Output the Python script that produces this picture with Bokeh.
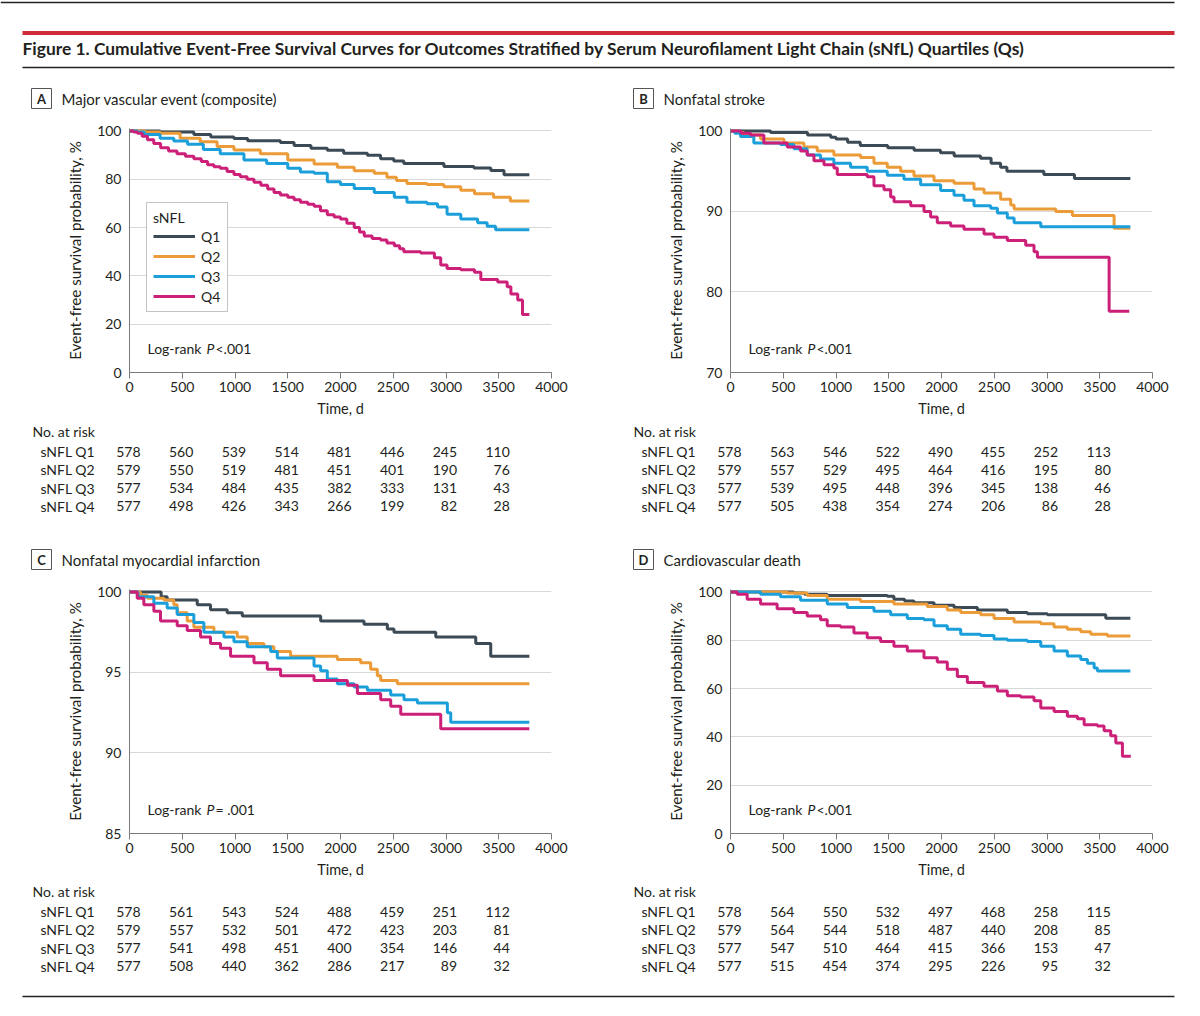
from bokeh.plotting import figure
from bokeh.models import Range1d, FixedTicker, Legend, LegendItem, Label
from bokeh.layouts import column, row
from bokeh.embed import file_html
from bokeh.resources import INLINE
from bokeh.core.properties import value

FONT = "Lato"
TXT = "#231f20"
COLORS = ["#3b4a55", "#eb9b37", "#1b9fdb", "#cc1f78"]
QUARTILES = ["Q1", "Q2", "Q3", "Q4"]
X_TICKS = [0, 500, 1000, 1500, 2000, 2500, 3000, 3500, 4000]
RISK_TIMES = [0, 500, 1000, 1500, 2000, 2500, 3000, 3500]
TITLE = ("Figure 1. Cumulative Event-Free Survival Curves for Outcomes Stratified by "
         "Serum Neurofilament Light Chain (sNfL) Quartiles (Qs)")

# ---------- Panel A: Major vascular event (composite) ----------
A_T1 = [0, 290, 610, 770, 990, 1120, 1430, 1560, 1720, 1875, 2030, 2255, 2380, 2505, 2600, 2980, 3265, 3425, 3550, 3790]
A_S1 = [100, 99.5, 98.5, 97.5, 96.9, 95.9, 95.2, 94.0, 92.8, 92.0, 90.8, 89.9, 88.5, 87.5, 86.5, 85.3, 84.6, 83.6, 81.9, 81.9]
A_T2 = [0, 150, 290, 480, 670, 830, 990, 1240, 1500, 1750, 1970, 2130, 2320, 2440, 2530, 2630, 2820, 2980, 3140, 3270, 3450, 3610, 3790]
A_S2 = [100, 99.6, 99.0, 97.0, 95.5, 93.6, 92.1, 90.5, 88.0, 86.3, 85.0, 83.5, 82.5, 80.8, 79.5, 78.2, 77.8, 76.9, 75.4, 74.0, 72.5, 71.0, 71.0]
A_T3 = [0, 70, 140, 290, 420, 550, 700, 860, 1085, 1300, 1500, 1620, 1750, 1875, 2000, 2130, 2320, 2510, 2630, 2820, 2920, 3010, 3140, 3300, 3390, 3470, 3790]
A_S3 = [100, 99.5, 98.5, 97.0, 95.8, 94.5, 92.3, 90.5, 88.0, 86.5, 84.5, 83.0, 82.5, 79.0, 77.8, 76.2, 74.5, 72.5, 70.5, 69.8, 68.5, 65.5, 63.5, 62.0, 60.5, 59.1, 59.1]
A_T4 = [0, 40, 75, 120, 170, 230, 295, 370, 450, 530, 610, 680, 740, 800, 860, 925, 990, 1050, 1115, 1180,
        1245, 1310, 1370, 1430, 1500, 1560, 1620, 1690, 1750, 1810, 1875, 1940, 2000, 2060, 2130, 2180, 2225, 2300, 2380, 2440,
        2510, 2560, 2600, 2760, 2890, 2950, 3010, 3140, 3270, 3330, 3490, 3580, 3615, 3680, 3725, 3790]
A_S4 = [100, 99.5, 99, 97.8, 96.3, 94.8, 93, 91.7, 90.5, 89.5, 88.5, 87.3, 86, 85.2, 84.5, 83.2, 82, 81, 80, 78.7,
        77.5, 76, 74.5, 73.5, 72.5, 71.5, 70.5, 69.6, 68.8, 67, 65.3, 64.4, 63.5, 61.8, 60, 58.2, 56.5, 55.5, 54.8, 53.6,
        52.5, 51.2, 50, 49.5, 47.5, 44.5, 43, 42.5, 41.5, 38.5, 37.5, 35.5, 32.5, 30, 24, 24]
A_RISK1 = [578, 560, 539, 514, 481, 446, 245, 110]
A_RISK2 = [579, 550, 519, 481, 451, 401, 190, 76]
A_RISK3 = [577, 534, 484, 435, 382, 333, 131, 43]
A_RISK4 = [577, 498, 426, 343, 266, 199, 82, 28]

# ---------- Panel B: Nonfatal stroke ----------
B_T1 = [0, 380, 730, 950, 1000, 1110, 1230, 1490, 1740, 1990, 2120, 2370, 2470, 2560, 2620, 2970, 3260, 3790]
B_S1 = [100, 99.8, 99.5, 99.2, 99.0, 98.6, 98.2, 97.9, 97.6, 97.3, 96.9, 96.6, 96.0, 95.5, 95.0, 94.6, 94.1, 94.1]
B_T2 = [0, 60, 126, 285, 506, 696, 822, 980, 1233, 1360, 1486, 1613, 1739, 1929, 2119, 2308, 2403, 2561, 2656, 2688, 3083, 3241, 3636, 3790]
B_S2 = [100, 99.8, 99.5, 99.0, 98.5, 98.0, 97.5, 97.0, 96.7, 96.0, 95.5, 95.0, 94.4, 93.8, 93.5, 92.8, 92.3, 91.5, 90.8, 90.3, 90.0, 89.5, 87.9, 87.9]
B_T3 = [0, 40, 95, 221, 474, 601, 727, 854, 980, 1138, 1296, 1486, 1644, 1802, 1992, 2119, 2213, 2308, 2466, 2530, 2624, 2688, 2941, 3790]
B_S3 = [100, 99.7, 99.3, 98.5, 98.3, 97.8, 97.0, 96.5, 96.0, 95.5, 95.0, 94.5, 94.0, 93.3, 92.6, 92.0, 91.4, 90.7, 90.4, 89.8, 89.2, 88.6, 88.1, 88.1]
B_T4 = [0, 100, 190, 316, 538, 664, 727, 791, 886, 980, 1012, 1296, 1360, 1455, 1518, 1550, 1708, 1834, 1897, 1960,
        2087, 2213, 2403, 2498, 2624, 2798, 2877, 2909, 3589, 3780]
B_S4 = [100, 99.7, 99.5, 98.5, 98.0, 97.5, 97.0, 96.3, 95.8, 95.4, 94.6, 94.3, 93.2, 92.7, 91.8, 91.2, 90.7, 90.0, 89.3, 88.6,
        88.2, 87.8, 87.2, 86.8, 86.4, 85.8, 85.0, 84.3, 77.6, 77.6]
B_RISK1 = [578, 563, 546, 522, 490, 455, 252, 113]
B_RISK2 = [579, 557, 529, 495, 464, 416, 195, 80]
B_RISK3 = [577, 539, 495, 448, 396, 345, 138, 46]
B_RISK4 = [577, 505, 438, 354, 274, 206, 86, 28]

# ---------- Panel C: Nonfatal myocardial infarction ----------
C_T1 = [0, 300, 357, 642, 768, 926, 1069, 1812, 2223, 2444, 2507, 2903, 3282, 3424, 3790]
C_S1 = [100, 99.7, 99.5, 99.2, 98.9, 98.7, 98.5, 98.2, 98.0, 97.7, 97.5, 97.2, 96.8, 96.0, 96.0]
C_T2 = [0, 104, 170, 326, 420, 452, 547, 610, 800, 1021, 1116, 1274, 1369, 1527, 1970, 2191, 2286, 2349, 2381, 2539, 3790]
C_S2 = [100, 99.8, 99.6, 99.5, 99.2, 98.7, 98.2, 97.8, 97.5, 97.2, 96.8, 96.6, 96.3, 96.0, 95.8, 95.6, 95.2, 94.8, 94.5, 94.3, 94.3]
C_T3 = [0, 80, 231, 357, 452, 610, 705, 895, 990, 1116, 1338, 1401, 1749, 1812, 1875, 1970, 2128, 2255, 2476, 2602, 2729, 3013, 3045, 3790]
C_S3 = [100, 99.7, 99.3, 99.0, 98.6, 98.1, 97.5, 97.2, 96.9, 96.6, 96.3, 95.9, 95.4, 95.1, 94.6, 94.3, 94.1, 93.9, 93.6, 93.3, 93.1, 92.5, 91.9, 91.9]
C_T4 = [0, 73, 136, 231, 294, 452, 547, 673, 768, 863, 958, 1180, 1306, 1432, 1749, 2065, 2160, 2381, 2476, 2571, 2950, 3790]
C_S4 = [100, 99.6, 99.2, 98.8, 98.2, 97.9, 97.6, 97.2, 96.8, 96.5, 96.0, 95.6, 95.2, 94.8, 94.5, 94.2, 93.7, 93.3, 92.9, 92.4, 91.5, 91.5]
C_RISK1 = [578, 561, 543, 524, 488, 459, 251, 112]
C_RISK2 = [579, 557, 532, 501, 472, 423, 203, 81]
C_RISK3 = [577, 541, 498, 451, 400, 354, 146, 44]
C_RISK4 = [577, 508, 440, 362, 286, 217, 89, 32]

# ---------- Panel D: Cardiovascular death ----------
D_T1 = [0, 600, 700, 917, 1486, 1549, 1650, 1739, 1929, 2119, 2340, 2624, 2814, 3004, 3557, 3790]
D_S1 = [100, 99.5, 99.0, 98.5, 98.2, 97.0, 96.2, 95.5, 94.5, 93.5, 92.5, 91.5, 91.0, 90.5, 89.1, 89.1]
D_T2 = [0, 537, 727, 917, 1233, 1549, 1865, 2055, 2182, 2371, 2498, 2688, 2941, 3067, 3193, 3320, 3415, 3573, 3790]
D_S2 = [100, 99.5, 98.5, 97.0, 96.0, 95.0, 94.0, 92.5, 91.5, 90.5, 89.0, 87.5, 86.8, 85.5, 84.5, 83.5, 82.5, 81.8, 81.8]
D_T3 = [0, 285, 474, 664, 917, 1107, 1360, 1518, 1676, 1834, 1929, 2055, 2182, 2371, 2498, 2624, 2814, 2941, 3067, 3193, 3320, 3383, 3447, 3478, 3790]
D_S3 = [100, 99.0, 98.0, 96.5, 95.0, 93.5, 92.0, 90.5, 89.0, 88.5, 86.0, 84.5, 82.5, 82.0, 80.5, 80.0, 79.5, 77.5, 75.5, 73.5, 72.0, 70.5, 68.5, 67.3, 67.3]
D_T4 = [0, 63, 158, 285, 442, 601, 727, 854, 917, 1043, 1170, 1296, 1423, 1549, 1676, 1834, 1960, 2055, 2150, 2245,
        2403, 2530, 2624, 2751, 2877, 2941, 3067, 3193, 3288, 3352, 3478, 3541, 3604, 3652, 3715, 3794]
D_S4 = [100, 99, 97, 95, 93, 91.5, 90, 88.5, 86, 85.5, 83, 81, 79.5, 77.5, 75.5, 72.8, 71, 68, 65, 62.5,
        61, 59, 57, 56.5, 55, 52, 50.5, 48.5, 47.5, 45, 44.5, 42.5, 40.5, 37.5, 32, 32]
D_RISK1 = [578, 564, 550, 532, 497, 468, 258, 115]
D_RISK2 = [579, 564, 544, 518, 487, 440, 208, 85]
D_RISK3 = [577, 547, 510, 464, 415, 366, 153, 47]
D_RISK4 = [577, 515, 454, 374, 295, 226, 95, 32]

# ---------- layout constants (pixels) ----------
FRAME_W = 422
FRAME_H = 244
KM_H = 307
TAB_H = 98
LEFT_W = 610
RIGHT_W = 574
X_MAX = 4000


def base_fig(width, height, xr, yr):
    p = figure(width=width, height=height, x_range=xr, y_range=yr,
               x_axis_type=None, y_axis_type=None, min_border=0,
               output_backend="svg", toolbar_location=None)
    p.outline_line_color = None
    p.grid.visible = False
    p.background_fill_color = "white"
    p.border_fill_color = "white"
    return p


def km_fig(width, bl, br, bt, lo, hi, yticks, curves, ptext, legend=False):
    pad = (hi - lo) * 0.01
    p = figure(width=width, height=KM_H, x_range=Range1d(0, X_MAX), y_range=Range1d(lo, hi + pad),
               min_border_left=bl, min_border_right=br, min_border_top=bt,
               min_border_bottom=KM_H - bt - FRAME_H,
               output_backend="svg", toolbar_location=None)
    p.outline_line_color = None
    p.xgrid.visible = False
    p.ygrid.grid_line_color = "#d8d8d8"
    p.ygrid.grid_line_width = 1
    p.xaxis.ticker = FixedTicker(ticks=X_TICKS)
    p.yaxis.ticker = FixedTicker(ticks=yticks)
    p.xaxis.axis_label = "Time, d"
    p.yaxis.axis_label = "Event-free survival probability, %"
    for ax in (p.xaxis[0], p.yaxis[0]):
        ax.axis_line_color = "#7a7a7a"
        ax.axis_line_width = 1
        ax.major_tick_line_color = "#7a7a7a"
        ax.minor_tick_line_color = None
        ax.major_label_text_font = FONT
        ax.major_label_text_font_size = "14px"
        ax.major_label_text_color = TXT
        ax.axis_label_text_font = FONT
        ax.axis_label_text_font_size = "14.5px"
        ax.axis_label_text_font_style = "normal"
        ax.axis_label_text_color = TXT
    p.yaxis.axis_label_text_font_size = "15.2px"
    p.xaxis.major_tick_out = 6
    p.xaxis.major_tick_in = 0
    p.xaxis.major_label_standoff = 3
    p.xaxis.axis_label_standoff = 5
    p.yaxis.major_tick_out = 0
    p.yaxis.major_tick_in = 0
    p.yaxis.major_label_standoff = 8
    p.yaxis.axis_label_standoff = 10
    rends = []
    for (t, s), c in zip(curves, COLORS):
        r = p.step(x=t, y=s, mode="after", line_color=c, line_width=3)
        rends.append(r)
    # Log-rank annotation
    lx = 18 * X_MAX / FRAME_W
    ly = lo + 24 / FRAME_H * (hi + pad - lo)
    parts = [("Log-rank", "normal", 0), ("P", "italic", 59), (ptext, "normal", 68)]
    for txt, style, off in parts:
        p.add_layout(Label(x=lx, y=ly, x_offset=off, text=txt, text_font=FONT, text_font_size="14px",
                           text_font_style=style, text_color=TXT, text_baseline="middle"))
    if legend:
        items = [LegendItem(label=q, renderers=[r]) for q, r in zip(QUARTILES, rends)]
        lg = Legend(items=items, location=(17, 60), title="sNFL",
                    title_text_font=FONT, title_text_font_size="14px", title_text_font_style="normal",
                    title_text_color=TXT, title_standoff=1,
                    label_text_font=FONT, label_text_font_size="14px", label_text_color=TXT,
                    glyph_width=42, glyph_height=18, label_height=18, label_standoff=6,
                    spacing=2, padding=6, margin=0,
                    border_line_color="#8a8a8a", border_line_width=1,
                    background_fill_color="white", background_fill_alpha=1)
        p.add_layout(lg)
    return p


def table_fig(width, fig_left, frame_left, risks, label_x):
    scale = X_MAX / FRAME_W
    xr = Range1d((fig_left - frame_left) * scale, (fig_left + width - frame_left) * scale)
    p = base_fig(width, TAB_H, xr, Range1d(TAB_H, 0))
    fs = "14px"
    p.text(x=[(label_x - frame_left) * scale], y=[9], text=["No. at risk"],
           text_font=value(FONT), text_font_size=fs, text_color=TXT, text_baseline="middle")
    for i, (q, vals) in enumerate(zip(QUARTILES, risks)):
        yy = 29 + 18.3 * i
        p.text(x=[(label_x + 8 - frame_left) * scale], y=[yy], text=["sNFL " + q],
               text_font=value(FONT), text_font_size=fs, text_color=TXT, text_baseline="middle")
        p.text(x=RISK_TIMES, y=[yy] * len(RISK_TIMES), text=[str(v) for v in vals],
               text_align="right", x_offset=11,
               text_font=value(FONT), text_font_size=fs, text_color=TXT, text_baseline="middle")
    return p


def panel_label(p, cx, cy, letter, title):
    p.rect(x=[cx], y=[cy], width=20, height=20, fill_color=None, line_color="#555555", line_width=1)
    p.text(x=[cx], y=[cy + 0.5], text=[letter], text_align="center", text_baseline="middle",
           text_font=value(FONT), text_font_size="13px", text_font_style="bold", text_color=TXT)
    p.text(x=[cx + 20], y=[cy], text=[title], text_baseline="middle",
           text_font=value(FONT), text_font_size="15px", text_color=TXT)


TOTAL_W = LEFT_W + RIGHT_W

# header
HEAD_H = 115
head = base_fig(TOTAL_W, HEAD_H, Range1d(0, TOTAL_W), Range1d(HEAD_H, 0))
head.segment(x0=[0], y0=[2], x1=[1174], y1=[2], line_color="#222222", line_width=1.5)
head.segment(x0=[22], y0=[32.5], x1=[1174], y1=[32.5], line_color="#cf2a36", line_width=4)
head.text(x=[22], y=[48], text=[TITLE], text_baseline="middle", text_font=value(FONT),
          text_font_size="17.4px", text_font_style="bold", text_color=TXT)
head.segment(x0=[22], y0=[67], x1=[1174], y1=[67], line_color="#222222", line_width=1.5)
panel_label(head, 41, 98, "A", "Major vascular event (composite)")
panel_label(head, 643, 98, "B", "Nonfatal stroke")

kmA = km_fig(LEFT_W, 129, LEFT_W - 129 - FRAME_W, 13, 0, 100, [0, 20, 40, 60, 80, 100],
             [(A_T1, A_S1), (A_T2, A_S2), (A_T3, A_S3), (A_T4, A_S4)], "<.001", legend=True)
kmB = km_fig(RIGHT_W, 120, RIGHT_W - 120 - FRAME_W, 13, 70, 100, [70, 80, 90, 100],
             [(B_T1, B_S1), (B_T2, B_S2), (B_T3, B_S3), (B_T4, B_S4)], "<.001")
tabA = table_fig(LEFT_W, 0, 129, [A_RISK1, A_RISK2, A_RISK3, A_RISK4], 32)
tabB = table_fig(RIGHT_W, LEFT_W, 730, [B_RISK1, B_RISK2, B_RISK3, B_RISK4], 633)

MID_H = 55
mid = base_fig(TOTAL_W, MID_H, Range1d(0, TOTAL_W), Range1d(MID_H, 0))
panel_label(mid, 41, 39, "C", "Nonfatal myocardial infarction")
panel_label(mid, 643, 39, "D", "Cardiovascular death")

kmC = km_fig(LEFT_W, 129, LEFT_W - 129 - FRAME_W, 14, 85, 100, [85, 90, 95, 100],
             [(C_T1, C_S1), (C_T2, C_S2), (C_T3, C_S3), (C_T4, C_S4)], "= .001")
kmD = km_fig(RIGHT_W, 120, RIGHT_W - 120 - FRAME_W, 14, 0, 100, [0, 20, 40, 60, 80, 100],
             [(D_T1, D_S1), (D_T2, D_S2), (D_T3, D_S3), (D_T4, D_S4)], "<.001")
tabC = table_fig(LEFT_W, 0, 129, [C_RISK1, C_RISK2, C_RISK3, C_RISK4], 32)
tabD = table_fig(RIGHT_W, LEFT_W, 730, [D_RISK1, D_RISK2, D_RISK3, D_RISK4], 633)

FOOT_H = 20
foot = base_fig(TOTAL_W, FOOT_H, Range1d(0, TOTAL_W), Range1d(FOOT_H, 0))
foot.segment(x0=[22], y0=[16], x1=[1174], y1=[16], line_color="#222222", line_width=1.5)

layout = column(head, row(kmA, kmB), row(tabA, tabB), mid, row(kmC, kmD), row(tabC, tabD), foot)

open("out.html", "w").write(file_html(layout, INLINE))
